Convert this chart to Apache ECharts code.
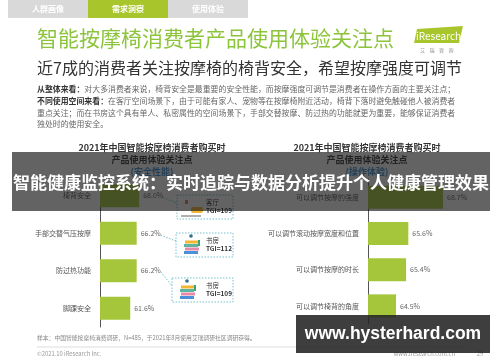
<!DOCTYPE html>
<html><head><meta charset="utf-8">
<script src="https://cdn.jsdelivr.net/npm/echarts@6/dist/echarts.min.js"></script>
<style>html,body{margin:0;padding:0;background:#fff}#c{width:500px;height:362px}</style>
</head><body><div id="c"></div>
<script>
const leftCats = ['椅背安全','手部交替气压按摩','防过热功能','脚踝安全'];
const leftVals = [68.0, 66.2, 66.2, 61.6];
const rightCats = ['可以调节按摩的强度','可以调节滚动按摩宽度和位置','可以调节按摩的时长','可以调节椅背的角度'];
const rightVals = [68.7, 65.6, 65.4, 64.5];
const tgiRooms = ['客厅','书房','书房'];
const tgiVals = [109, 112, 109];
const tabs = ['人群画像','需求洞察','使用体验'];
const paraLines = [
  ['从整体来看：','对大多消费者来说，椅背安全是最重要的安全性能，而按摩强度可调节是消费者在操作方面的主要关注点；'],
  ['不同使用空间来看：','在客厅空间场景下，由于可能有家人、宠物等在按摩椅附近活动，椅背下落时避免触碰他人被消费者'],
  ['','重点关注；而在书房这个具有单人、私密属性的空间场景下，手部交替按摩、防过热的功能就更为重要，能够保证消费者'],
  ['','独处时的使用安全。']
];

const FF = '"Noto Sans CJK SC", sans-serif';
const GREEN = '#a5c63b';
const chart = echarts.init(document.getElementById('c'), null, {renderer:'canvas'});

const g = [];
// tabs
g.push({type:'rect', shape:{x:8,y:0,width:240,height:18}, style:{fill:'#d9d9d9'}});
g.push({type:'rect', shape:{x:88,y:0,width:80,height:18}, style:{fill:'#a8c62c'}});
tabs.forEach((t,i)=>g.push({type:'text', x:48+i*80, y:9, style:{text:t, fill:'#fff', font:'bold 8px '+FF, textAlign:'center', textVerticalAlign:'middle'}}));
// title
g.push({type:'text', x:37, y:38, style:{text:'智能按摩椅消费者产品使用体验关注点', fill:'#8cc43c', font:'21px '+FF, textVerticalAlign:'middle'}});
g.push({type:'text', x:37, y:68, style:{text:'近7成的消费者关注按摩椅的椅背安全，希望按摩强度可调节', fill:'#333', font:'16px '+FF, textVerticalAlign:'middle'}});
// logo
g.push({type:'polygon', shape:{points:[[417,29],[463,26],[459,43],[414,43]]}, style:{fill:'#a8c62c'}});
g.push({type:'text', x:416, y:36, style:{text:'iResearch', fill:'#fff', font:'10px '+FF, textVerticalAlign:'middle'}});
g.push({type:'text', x:420, y:50, style:{text:'艾    瑞    咨    询', fill:'#888', font:'5px '+FF, textVerticalAlign:'middle'}});
// paragraph
const pY = [89,101,113,124];
paraLines.forEach((l,i)=>{
  g.push({type:'text', x:37, y:pY[i], style:{rich:{b:{font:'bold 7.9px '+FF, fill:'#333'}, n:{font:'7.9px '+FF, fill:'#666'}}, text:(l[0]?'{b|'+l[0]+'}':'')+'{n|'+l[1]+'}', textVerticalAlign:'middle'}});
});
// chart titles
[[152,'(安全性能)'],[367,'(操作体验)']].forEach(([cx,sub])=>{
  g.push({type:'text', x:cx, y:148, style:{text:'2021年中国智能按摩椅消费者购买时', fill:'#333', font:'bold 9px '+FF, textAlign:'center', textVerticalAlign:'middle'}});
  g.push({type:'text', x:cx, y:160, style:{text:'产品使用体验关注点', fill:'#333', font:'bold 9px '+FF, textAlign:'center', textVerticalAlign:'middle'}});
  g.push({type:'text', x:cx, y:172, style:{text:sub, fill:'#3a8fd6', font:'bold 9px '+FF, textAlign:'center', textVerticalAlign:'middle'}});
});
// footer
g.push({type:'text', x:37, y:338, style:{text:'样本：中国智能按摩椅消费调研，N=485，于2021年8月使用艾瑞调研社区调研获得。', fill:'#888', font:'5.8px '+FF, textVerticalAlign:'middle'}});
g.push({type:'line', shape:{x1:37,y1:347,x2:463,y2:347}, style:{stroke:'#ddd', lineWidth:1}});
g.push({type:'text', x:37, y:354, style:{text:'©2021.10 iResearch Inc.', fill:'#999', font:'5.8px '+FF, textVerticalAlign:'middle'}});
g.push({type:'text', x:455, y:354, style:{text:'www.iresearch.com.cn', fill:'#999', font:'5.8px '+FF, textAlign:'right', textVerticalAlign:'middle'}});
g.push({type:'text', x:480, y:354, style:{text:'29', fill:'#999', font:'5.8px '+FF, textAlign:'center', textVerticalAlign:'middle'}});

function catLabel(){return {fontSize:7, color:'#555', margin:9, fontFamily:FF};}
chart.setOption({
  backgroundColor:'#fff',
  animation:false,
  grid:[
    {left:100, top:177, width:84, height:150},
    {left:368, top:179, width:89.6, height:145}
  ],
  xAxis:[
    {gridIndex:0, type:'value', min:40, max:100, show:false},
    {gridIndex:1, type:'value', min:62, max:70, show:false}
  ],
  yAxis:[
    {gridIndex:0, type:'category', data:leftCats, inverse:true, axisTick:{show:false}, axisLine:{lineStyle:{color:'#555'}}, axisLabel:catLabel()},
    {gridIndex:1, type:'category', data:rightCats, inverse:true, axisTick:{show:false}, axisLine:{lineStyle:{color:'#555'}}, axisLabel:catLabel()}
  ],
  series:[
    {type:'bar', xAxisIndex:0, yAxisIndex:0, data:leftVals, barWidth:23, itemStyle:{color:GREEN},
     label:{show:true, position:'right', distance:4, fontSize:7, color:'#666', fontFamily:FF, formatter:p=>p.value.toFixed(1)+'%'}},
    {type:'bar', xAxisIndex:1, yAxisIndex:1, data:rightVals, barWidth:23, itemStyle:{color:GREEN},
     label:{show:true, position:'right', distance:4, fontSize:7, color:'#666', fontFamily:FF, formatter:p=>p.value.toFixed(1)+'%'}}
  ],
  graphic:{elements:g}
});

// TGI callouts anchored to bars
const boxes = [[177,195],[176,233],[172,278]];
const g2 = [];
tgiVals.forEach((v,i)=>{
  const p = chart.convertToPixel({gridIndex:0}, [leftVals[i], i]);
  const sx = p[0] + 24, sy = p[1] + (i===2?1:2);
  const [bx,by] = boxes[i];
  const bw = 233-bx, bh = 24;
  g2.push({type:'line', z:50, shape:{x1:sx,y1:sy,x2:bx,y2:by+8}, style:{stroke:'#4fb3bf', lineWidth:0.8, lineDash:[1.5,1.5]}});
  g2.push({type:'rect', z:50, shape:{x:bx,y:by,width:bw,height:bh}, style:{fill:'#fff', stroke:'#4fb3bf', lineWidth:0.8, lineDash:[1.5,1.5]}});
  if (tgiRooms[i]==='客厅'){
    g2.push({type:'rect', z:51, shape:{x:bx+14,y:by+12,width:12,height:6,r:2}, style:{fill:'#f2b632'}});
    g2.push({type:'rect', z:51, shape:{x:bx+8,y:by+5,width:3,height:4}, style:{fill:'#e07a5f'}});
    g2.push({type:'rect', z:51, shape:{x:bx+4,y:by+20,width:20,height:2}, style:{fill:'#b0b0b0'}});
  } else {
    const cs = ['#4a90d9','#e68aa8','#5bb5a2','#f2b632'];
    cs.forEach((c,k)=>g2.push({type:'rect', z:51, shape:{x:bx+8+k%2,y:by+18-k*3.5,width:14,height:3}, style:{fill:c}}));
    g2.push({type:'circle', z:51, shape:{cx:bx+15,cy:by+3,r:1.8}, style:{fill:'#2e6f8e'}});
    g2.push({type:'rect', z:51, shape:{x:bx+22,y:by+7,width:2,height:6}, style:{fill:'#3aa57a'}});
  }
  g2.push({type:'text', z:51, x:bx+bw-27, y:by+8, style:{text:tgiRooms[i], fill:'#333', font:'6.5px '+FF, textVerticalAlign:'middle'}});
  g2.push({type:'text', z:51, x:bx+bw-27, y:by+16, style:{text:'TGI='+v, fill:'#333', font:'bold 6.5px '+FF, textVerticalAlign:'middle'}});
});
// overlay band and watermark (on top)
g2.push({type:'rect', z:100, shape:{x:12,y:152,width:478,height:59}, style:{fill:'rgba(25,25,25,0.68)'}});
g2.push({type:'text', z:101, x:251, y:183, style:{text:'智能健康监控系统：实时追踪与数据分析提升个人健康管理效果', fill:'#fff', font:'bold 17px '+FF, textAlign:'center', textVerticalAlign:'middle'}});
g2.push({type:'rect', z:100, shape:{x:296,y:315,width:194,height:38}, style:{fill:'rgba(35,35,35,0.88)'}});
g2.push({type:'text', z:101, x:393, y:334, style:{text:'www.hysterhard.com', fill:'#fff', font:'bold 17.5px "Liberation Sans", Arial, sans-serif', textAlign:'center', textVerticalAlign:'middle'}});
chart.setOption({graphic:{elements:g.concat(g2)}});
</script>
</body></html>
